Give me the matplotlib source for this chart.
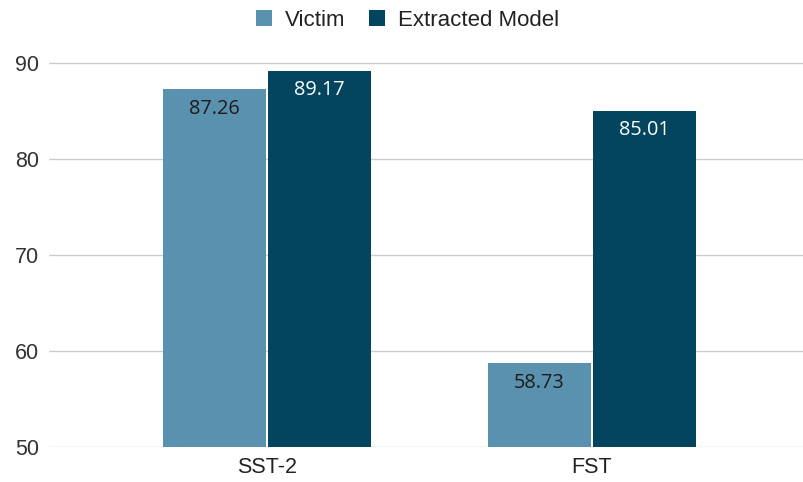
import matplotlib.pyplot as plt
import numpy as np

plt.rcParams['font.family'] = ['Liberation Sans', 'DejaVu Sans']

datasets = ["SST-2", "FST"]
victim = [87.26, 58.73]
extracted = [89.17, 85.01]

VICTIM_COLOR = "#5a91ae"
EXTRACTED_COLOR = "#03445e"

W, H = 804, 482
fig = plt.figure(figsize=(W / 100, H / 100), dpi=100)
ax = fig.add_axes([49 / W, 35 / H, 755 / W, 403.2 / H])

x = np.arange(len(datasets))
width = 0.317
offset = 0.1615

bars_v = ax.bar(x - offset, victim, width, color=VICTIM_COLOR, label="Victim", zorder=3)
bars_e = ax.bar(x + offset, extracted, width, color=EXTRACTED_COLOR, label="Extracted Model", zorder=3)

# value labels sit just inside the top of each bar
for bars, vals, col in [(bars_v, victim, "#1c1c1c"), (bars_e, extracted, "white")]:
    for bar, val in zip(bars, vals):
        ax.annotate(f"{val:.2f}", (bar.get_x() + bar.get_width() / 2, val),
                    xytext=(0, -14), textcoords="offset points",
                    ha="center", va="center", fontsize=14.3, color=col,
                    family=["Open Sans", "DejaVu Sans"], zorder=4)

ax.set_ylim(50, 92)
ax.set_xlim((49 - 267) / 325, (804 - 267) / 325)
ax.set_yticks([50, 60, 70, 80, 90])
ax.set_xticks(x)
ax.set_xticklabels(datasets, fontsize=15.5, color="#222222")
ax.tick_params(axis="y", labelsize=15.5, colors="#333333", length=0, pad=7)
ax.tick_params(axis="x", length=0, pad=7)
ax.grid(axis="y", color="#cccccc", linewidth=1, zorder=0)
for s in ax.spines.values():
    s.set_visible(False)

fig.legend(loc="center", bbox_to_anchor=(0.507, 0.958), ncol=2, frameon=False,
           fontsize=16, handlelength=0.7, handleheight=0.7, handletextpad=0.6,
           columnspacing=1.05, labelcolor="#222222")

fig.savefig("out.png", dpi=100)
